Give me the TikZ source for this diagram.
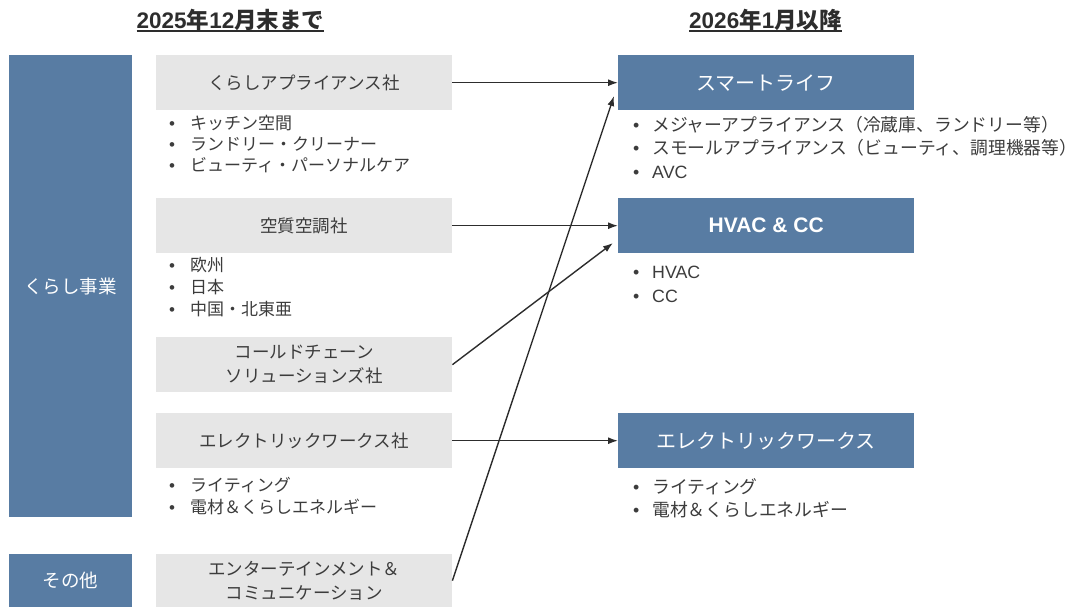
\documentclass[tikz,border=0pt]{standalone}
\usepackage{fontspec}
\setmainfont{Noto Sans CJK JP}
\newfontfamily\lat{Liberation Sans}
\usetikzlibrary{arrows.meta}
\definecolor{blu}{RGB}{88,124,163}
\definecolor{gry}{RGB}{230,230,230}
\definecolor{txt}{RGB}{60,60,60}
\definecolor{ln}{RGB}{45,45,45}
\newcommand\bl[1]{\makebox[21pt][l]{\lat •}#1}
\newcommand\br[1]{\makebox[19pt][l]{\lat •}#1}
\tikzset{
  bluebox/.style={fill=blu, draw=none, text=white, inner sep=0pt, anchor=north west, align=center},
  graybox/.style={fill=gry, draw=none, text=txt, inner sep=0pt, anchor=north west, align=center,
    minimum width=296pt, minimum height=55pt, font=\fontsize{17.5}{24}\selectfont},
  rbox/.style={bluebox, minimum width=296pt, minimum height=55pt, font=\fontsize{20}{24}\selectfont},
  bul/.style={anchor=west, inner sep=0pt, text=txt, font=\fontsize{17}{20}\selectfont},
  rbul/.style={bul, font=\fontsize{17.8}{20}\selectfont},
  arr/.style={draw=ln, line width=1.4pt, -{Latex[length=10pt,width=7pt]}},
  hdr/.style={anchor=base, inner sep=0pt, text=ln, font=\bfseries\fontsize{22.5}{26}\selectfont},
}
\begin{document}
\begin{tikzpicture}[x=1pt,y=-1pt]
\useasboundingbox (0,0) rectangle (1087,607);
% headers
\node[hdr] (h1) at (230.5,28.3) {{\lat\bfseries 2025}年{\lat\bfseries 12}月末まで};
\draw[ln, line width=1.8pt] ([yshift=-3pt]h1.base west) -- ([yshift=-3pt]h1.base east);
\node[hdr] (h2) at (765.5,28.3) {{\lat\bfseries 2026}年{\lat\bfseries 1}月以降};
\draw[ln, line width=1.8pt] ([yshift=-3pt]h2.base west) -- ([yshift=-3pt]h2.base east);
% left bars
\node[bluebox, minimum width=123pt, minimum height=462pt, font=\fontsize{18.5}{22}\selectfont] (kurashi) at (9,55) {くらし事業};
\node[bluebox, minimum width=123pt, minimum height=53pt, font=\fontsize{18.5}{22}\selectfont] (sonota) at (9,554) {その他};
% gray boxes
\node[graybox] (b1) at (156,55) {くらしアプライアンス社};
\node[graybox] (b2) at (156,198) {空質空調社};
\node[graybox] (b3) at (156,337) {コールドチェーン\\ソリューションズ社};
\node[graybox] (b4) at (156,413) {エレクトリックワークス社};
\node[graybox, minimum height=53pt] (b5) at (156,554) {エンターテインメント＆\\コミュニケーション};
% left bullets
\node[bul] (l11) at (169,123) {\bl{キッチン空間}};
\node[bul] (l12) at (169,144) {\bl{ランドリー・クリーナー}};
\node[bul] (l13) at (169,165) {\bl{ビューティ・パーソナルケア}};
\node[bul] (l21) at (169,265) {\bl{欧州}};
\node[bul] (l22) at (169,287) {\bl{日本}};
\node[bul] (l23) at (169,309) {\bl{中国・北東亜}};
\node[bul] (l41) at (169,485) {\bl{ライティング}};
\node[bul] (l42) at (169,507) {\bl{電材＆くらしエネルギー}};
% right boxes
\node[rbox] (r1) at (618,55) {スマートライフ};
\node[rbox, font=\lat\bfseries\fontsize{21}{24}\selectfont] (r2) at (618,198) {HVAC \& CC};
\node[rbox] (r3) at (618,413) {エレクトリックワークス};
% right bullets
\node[rbul] (r11) at (633,125) {\br{メジャーアプライアンス（冷蔵庫、ランドリー等）}};
\node[rbul] (r12) at (633,148) {\br{スモールアプライアンス（ビューティ、調理機器等）}};
\node[rbul] (r13) at (633,172) {\br{\lat AVC}};
\node[rbul] (r21) at (633,272) {\br{\lat HVAC}};
\node[rbul] (r22) at (633,296) {\br{\lat CC}};
\node[rbul] (r31) at (633,487) {\br{ライティング}};
\node[rbul] (r32) at (633,510) {\br{電材＆くらしエネルギー}};
% connectors
\coordinate (t1) at (614,96);
\coordinate (t2) at (613,243);
\draw[arr] (b1.east) -- (r1.west);
\draw[arr] (b2.east) -- (r2.west);
\draw[arr] (b4.east) -- (r3.west);
\draw[arr] (b3.east) -- (t2);
\draw[arr] (b5.east) -- (t1);
\end{tikzpicture}
\end{document}
